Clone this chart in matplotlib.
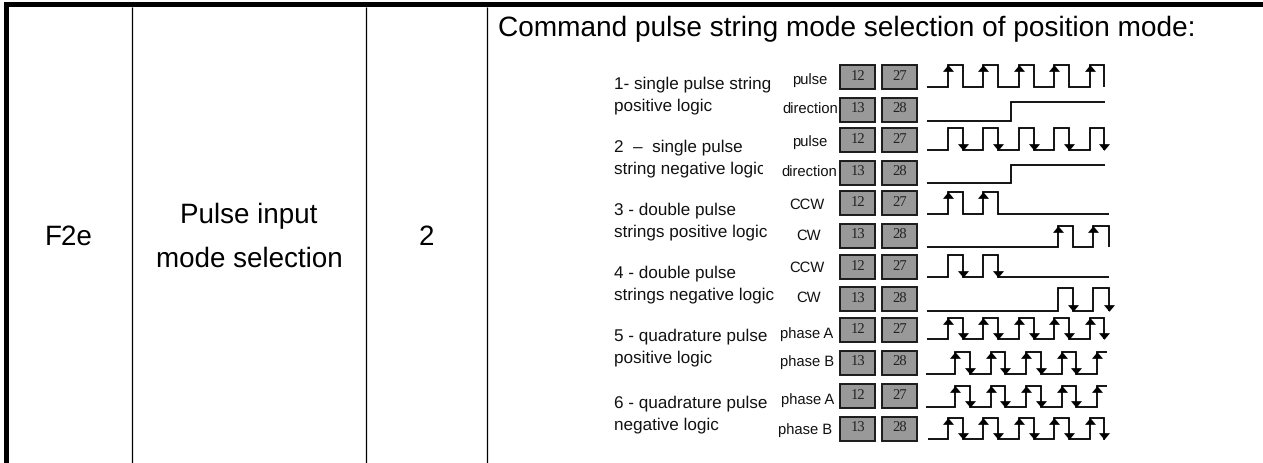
import matplotlib
matplotlib.use("Agg")
import matplotlib.pyplot as plt
from matplotlib.patches import Rectangle
from matplotlib.transforms import Bbox

plt.rcParams["font.family"] = ["Liberation Sans", "DejaVu Sans"]
plt.rcParams["text.hinting"] = "no_hinting"

# everything in pixels
W, H = 1263, 463

param_code = "F2e"
param_name = ["Pulse input", "mode selection"]
param_default = "2"
heading = "Command pulse string mode selection of position mode:"

mode_lines = [
    "1- single pulse string", "positive logic",
    "2  \u2013  single pulse", "string negative logic",
    "3 - double pulse", "strings positive logic",
    "4 - double pulse", "strings negative logic",
    "5 - quadrature pulse", "positive logic",
    "6 - quadrature pulse", "negative logic",
]
mode_x = [614.5, 614.5, 614, 614, 614, 614, 613.5, 613.5, 614, 614, 614, 614]
mode_y = [84, 106, 147, 169, 210, 232, 273, 295, 336, 358, 403, 425]

signal_names = ["pulse", "direction", "pulse", "direction", "CCW", "CW",
                "CCW", "CW", "phase A", "phase B", "phase A", "phase B"]
signal_x = [810, 810.5, 810, 809, 807, 809, 807, 809, 806.5, 807.5, 808, 805]
signal_y = [80, 110, 142.5, 173, 205, 236, 268, 298, 334, 362, 400.5, 430.5]

box_top = [65, 97.7, 127.7, 160.7, 191, 223.7, 255, 287.3, 317.7, 350.7, 384, 416.7]
box_left = ["12", "13"] * 6
box_right = ["27", "28"] * 6

wave_high = [65, 102.3, 128.3, 165, 192.3, 225.7, 255, 288.3, 317.7, 351.7, 386, 418.3]
wave_low = [87.3, 121, 150, 183.3, 214, 246.7, 277.3, 310.7, 339.3, 374, 406.7, 439.3]
wave_start = [926.7, 926.7, 926.7, 926.7, 926.7, 926.7, 927, 927, 926.7, 926, 926, 927.5]
wave_end = [1103.5, 1105, 1103.5, 1105, 1108.5, 1108.5, 1108.5, 1108.5, 1103.5, 1107, 1107, 1105]

pulse_a_up = [948.3, 983.3, 1019, 1054.3, 1090]
pulse_a_down = [963.3, 998.3, 1034, 1069.3, 1103.5]
pulse_b_up = [955, 990.7, 1026, 1061.7, 1096.7]
pulse_b_down = [970, 1005, 1040.7, 1076]

wave_up = [
    pulse_a_up, [1011], pulse_a_up, [1011],
    pulse_a_up[:2], [1058.3, 1093.3],
    pulse_a_up[:2], [1058.3, 1093.3],
    pulse_a_up, pulse_b_up, pulse_b_up, pulse_a_up,
]
wave_down = [
    pulse_a_down, [], pulse_a_down, [],
    [963.3, 998.3], [1073.3, 1108.5],
    [963.3, 998.3], [1073.3, 1108.5],
    pulse_a_down, pulse_b_down, pulse_b_down, pulse_a_down,
]
# which edges carry an arrow head
arrow_up = [1, 0, 0, 0, 1, 1, 0, 0, 1, 1, 1, 1]
arrow_down = [0, 0, 1, 0, 0, 0, 1, 1, 1, 1, 1, 1]

# flat arrow heads, wider than they are tall
head_up = [(-1, -0.6), (1, -0.6), (0, 0.6)]
head_down = [(-1, 0.6), (1, 0.6), (0, -0.6)]

fig = plt.figure(figsize=(W / 100, H / 100), dpi=100, facecolor="white")
ax = fig.add_axes([0, 0, 1, 1])
ax.set_xlim(0, W)
ax.set_ylim(H, 0)
ax.axis("off")

# table frame
ax.add_patch(Rectangle((4, 2), W - 4, 5, color="black", lw=0))
ax.add_patch(Rectangle((4, 2), 4.7, H - 2, color="black", lw=0))
for x in [131.5, 366, 486.5]:
    ax.plot([x, x], [7, H], color="black", lw=0.9, solid_capstyle="butt")

ax.text(68.5, 245, param_code, fontsize=20, ha="center", va="baseline")
ax.text(249, 223, param_name[0], fontsize=20, ha="center", va="baseline")
ax.text(249, 266.5, param_name[1], fontsize=20, ha="center", va="baseline")
ax.text(426, 245, param_default, fontsize=20, ha="center", va="baseline")
ax.text(498, 36.5, heading, fontsize=20.2, ha="left", va="baseline")

for i, (txt, x, y) in enumerate(zip(mode_lines, mode_x, mode_y)):
    t = ax.text(x, y, txt, fontsize=12.3, ha="left", va="center", color="#111111")
    if i == 3:
        # last letter is cut off in the scan
        t.set_clip_box(Bbox([[0, 0], [763, H]]))
        t.set_clip_on(True)

for txt, x, y in zip(signal_names, signal_x, signal_y):
    ax.text(x, y, txt, fontsize=10.6, ha="center", va="center", color="#111111")

for i in range(12):
    top = box_top[i]
    for x, num in [(840.3, box_left[i]), (881.7, box_right[i])]:
        ax.add_patch(Rectangle((x, top), 35, 24, facecolor="#999999", edgecolor="#1a1a1a", lw=1.4))
        ax.text(x + 17.5, top + 11.5, num, fontsize=10.5, family="Liberation Serif",
                ha="center", va="center", color="#222222")

    # step line from the edge lists
    hi, lo = wave_high[i], wave_low[i]
    edges = sorted([(x, 1) for x in wave_up[i]] + [(x, 0) for x in wave_down[i]])
    xs, ys = [wave_start[i]], [lo]
    level = lo
    for x, rising in edges:
        xs += [x, x]
        ys += [level, hi if rising else lo]
        level = hi if rising else lo
    if xs[-1] < wave_end[i]:
        xs.append(wave_end[i])
        ys.append(level)
    ax.plot(xs, ys, color="black", lw=1.3, solid_joinstyle="miter", solid_capstyle="butt")

    if arrow_up[i]:
        ax.plot(wave_up[i], [hi + 3] * len(wave_up[i]), ls="none", marker=head_up,
                ms=8, color="black", mew=0)
    if arrow_down[i]:
        ax.plot(wave_down[i], [lo - 3] * len(wave_down[i]), ls="none", marker=head_down,
                ms=8, color="black", mew=0)

fig.savefig("out.png", dpi=100)
